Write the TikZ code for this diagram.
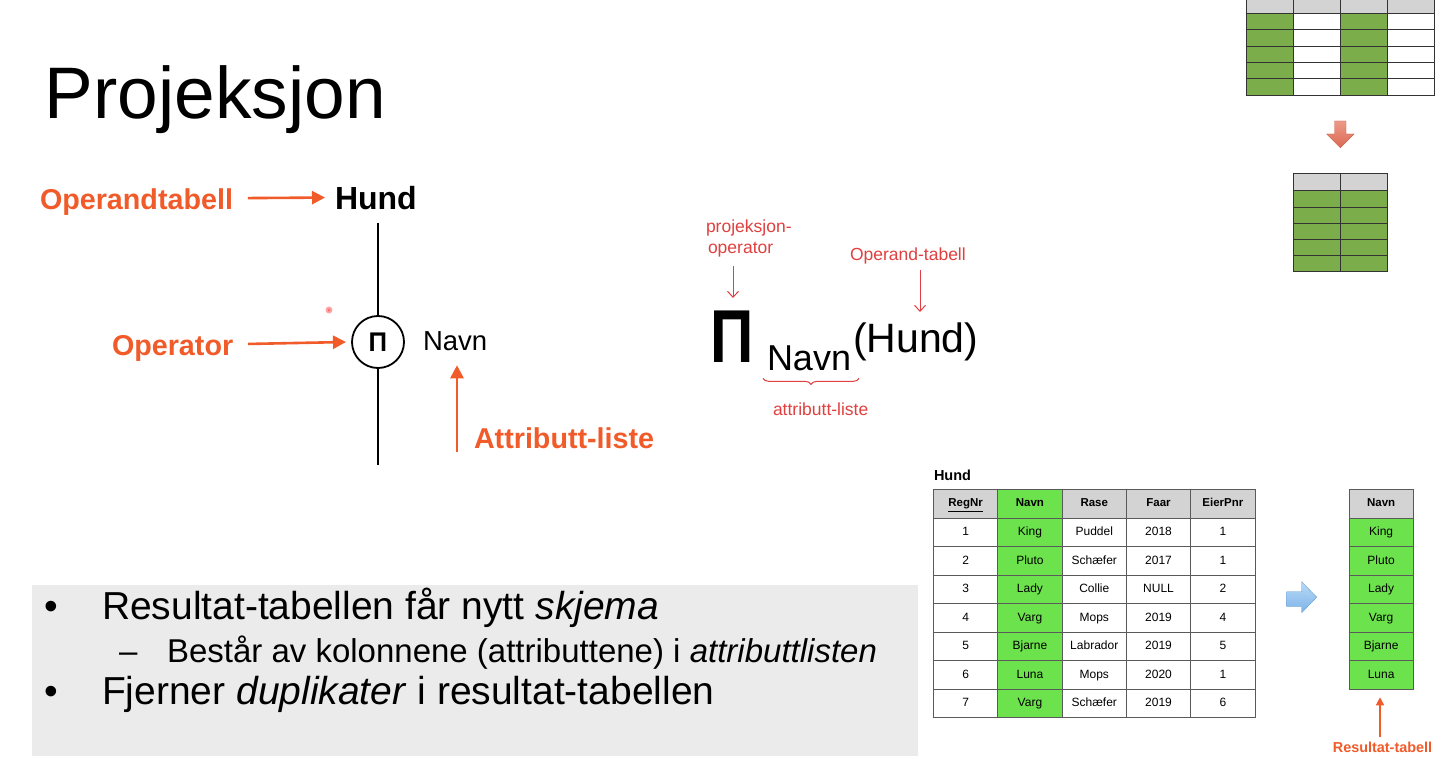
\documentclass[tikz,border=0pt]{standalone}
\usepackage{fontspec}
\setmainfont{Liberation Sans}
\usetikzlibrary{arrows.meta,decorations.pathreplacing,calc}

\definecolor{orng}{HTML}{F15A29}
\definecolor{hand}{HTML}{E0403F}
\definecolor{hdrgray}{HTML}{D3D3D3}
\definecolor{limeg}{HTML}{6CE24C}
\definecolor{oliveg}{HTML}{7BAE4A}
\definecolor{boxgray}{HTML}{EBEBEB}
\definecolor{gridline}{HTML}{5A5A5A}
\definecolor{bluetop}{HTML}{B8DAF7}
\definecolor{bluebot}{HTML}{7DB3E8}
\definecolor{blueedge}{HTML}{6A9FD6}
\definecolor{salmontop}{HTML}{EC9A88}
\definecolor{salmonbot}{HTML}{DC6A55}
\definecolor{salmonedge}{HTML}{C9624F}

\newcommand\fsz[1]{\fontsize{#1}{#1}\selectfont}

\begin{document}
\begin{tikzpicture}[x=1pt,y=-1pt,
  every node/.style={inner sep=0pt,outer sep=0pt},
  lbl/.style={text=orng,font=\fsz{28.7}\bfseries,anchor=base west},
  oarrow/.style={draw=orng,line width=2.6pt,-{Triangle[length=13pt,width=13pt]}},
  thinoarrow/.style={draw=orng,line width=1.4pt,-{Triangle[length=8pt,width=8pt]}},
  note/.style={text=hand,font=\fsz{17.5},anchor=base west},
  harrow/.style={draw=hand,line width=1pt,-{Straight Barb[length=6pt,width=11pt]}},
  cell/.style={draw=gridline,line width=0.8pt,minimum width=64.3pt,minimum height=28.5pt,
    font=\fsz{12},text height=8.8pt,text depth=2.6pt},
  hcell/.style={cell,fill=hdrgray,font=\fsz{11.5}\bfseries},
  mini/.style={draw=black!80,line width=0.7pt}
]
\useasboundingbox (0,0) rectangle (1436,757);
\fill[white] (0,0) rectangle (1436,757);

% title
\node[font=\fsz{73},anchor=base west] (title) at (45,119) {Projeksjon};

% ---------- operator tree ----------
\node[lbl] (optab) at (40,209) {Operandtabell};
\node[font=\fsz{32}\bfseries,anchor=base west] (hund) at (335,209) {Hund};
\draw[oarrow] ($(optab.east)+(15,-3.5)$) -- ($(hund.west)+(-10,0)$);

\node[circle,draw,line width=1.8pt,minimum size=52pt] (op) at (378,342)
  {\fsz{27}\bfseries\scalebox{0.95}[1]{Π}};
\coordinate (ltop) at (378,223);
\coordinate (lbot) at (378,465);
\draw[line width=1.8pt] (ltop) -- (op.north);
\draw[line width=1.8pt] (op.south) -- (lbot);

\node[lbl] (oplbl) at (112,355) {Operator};
\draw[oarrow] ($(oplbl.east)+(15,-4)$) -- ($(op.west)+(-6,0)$);

\node[font=\fsz{27.5},anchor=base west] (navn1) at (423,350) {Navn};
\node[lbl] (attr) at (474,448) {Attributt-liste};
\coordinate (attrtail) at (457,452);
\draw[oarrow] (attrtail) -- ($(navn1.south -| attrtail)+(0,15)$);

% pointer dot
\fill[red!35] (329,310) circle (3.5);
\fill[red!55] (329,310) circle (1.6);

% ---------- formula ----------
\node[font=\fsz{75}\bfseries,anchor=base west] (bigpi) at (710,362) {\scalebox{0.8}[1]{Π}};
\node[font=\fsz{36},anchor=base west] (sub) at (767,370) {Navn};
\node[font=\fsz{41},anchor=base west] (arg) at (853,352) {(Hund)};

\node[note] (pj1) at (706,233) {projeksjon-};
\node[note] (pj2) at (708,253) {operator};
\coordinate (pjarrow) at (733,266);
\draw[harrow] (pjarrow) -- (733,298);

\node[note] (ot) at (850,260) {Operand-tabell};
\coordinate (otarrow) at (920,270);
\draw[harrow] (otarrow) -- (920,312);

\draw[hand,line width=1pt,decorate,decoration={brace,amplitude=6pt,mirror}]
  ($(sub.south west)+(-4,8)$) -- ($(sub.south east)+(8,8)$);
\node[note] (al) at (773,415) {attributt-liste};

% ---------- small schematic tables ----------
\foreach \c in {0,...,3}{
  \filldraw[mini,fill=hdrgray] (1246.7+\c*46.9,-2) rectangle ++(46.9,15.3);
  \foreach \r in {0,...,4}{
    \pgfmathtruncatemacro{\odd}{mod(\c,2)}
    \ifnum\odd=0
      \filldraw[mini,fill=oliveg] (1246.7+\c*46.9,13.3+\r*16.35) rectangle ++(46.9,16.35);
    \else
      \filldraw[mini,fill=white] (1246.7+\c*46.9,13.3+\r*16.35) rectangle ++(46.9,16.35);
    \fi
  }
}
\shade[top color=salmontop,bottom color=salmonbot,draw=salmonedge]
  (1334.5,121) -- (1346,121) -- (1346,134) -- (1354,134) -- (1340.3,147.7)
  -- (1326.7,134) -- (1334.5,134) -- cycle;
\foreach \c in {0,1}{
  \filldraw[mini,fill=hdrgray] (1293.3+\c*47,173.7) rectangle ++(47,17);
  \foreach \r in {0,...,4}{
    \filldraw[mini,fill=oliveg] (1293.3+\c*47,190.7+\r*16.2) rectangle ++(47,16.2);
  }
}

% ---------- Hund table ----------
\node[font=\fsz{14.5}\bfseries,anchor=base west] (hundlbl) at (934,480.5) {Hund};
\node[hcell] (h-0-1) at (965.65,503.8) {\underline{RegNr}};
\node[hcell,fill=limeg] (h-0-2) at (1029.95,503.8) {Navn};
\node[hcell] (h-0-3) at (1094.25,503.8) {Rase};
\node[hcell] (h-0-4) at (1158.55,503.8) {Faar};
\node[hcell] (h-0-5) at (1222.85,503.8) {EierPnr};
\foreach \a/\b/\cc/\d/\e [count=\i] in {1/King/Puddel/2018/1,2/Pluto/Schæfer/2017/1,
    3/Lady/Collie/NULL/2,4/Varg/Mops/2019/4,5/Bjarne/Labrador/2019/5,
    6/Luna/Mops/2020/1,7/Varg/Schæfer/2019/6}{
  \pgfmathsetmacro{\yy}{518.3+(\i-0.5)*28.5}
  \node[cell] (h-\i-1) at (965.65,\yy) {\a};
  \node[cell,fill=limeg] (h-\i-2) at (1029.95,\yy) {\b};
  \node[cell] (h-\i-3) at (1094.25,\yy) {\cc};
  \node[cell] (h-\i-4) at (1158.55,\yy) {\d};
  \node[cell] (h-\i-5) at (1222.85,\yy) {\e};
}

% arrow to the result
\shade[top color=bluetop,bottom color=bluebot,draw=blueedge]
  (1286.7,591.7) -- (1301.7,591.7) -- (1301.7,581.7) -- (1316.7,597.2)
  -- (1301.7,612.7) -- (1301.7,606.7) -- (1286.7,606.7) -- cycle;

% ---------- result table ----------
\node[hcell] (r-0) at (1381.15,503.8) {Navn};
\foreach \b [count=\i] in {King,Pluto,Lady,Varg,Bjarne,Luna}{
  \pgfmathsetmacro{\yy}{518.3+(\i-0.5)*28.5}
  \node[cell,fill=limeg] (r-\i) at (1381.15,\yy) {\b};
}
\node[text=orng,font=\fsz{14.4}\bfseries,anchor=base] (reslbl) at (1382.5,752) {Resultat-tabell};
\coordinate (restail) at (1380,737);
\draw[thinoarrow] (restail) -- ($(r-6.south -| restail)+(0,8)$);

% ---------- bullet box ----------
\fill[boxgray] (32,585) rectangle (918,756);
\node[font=\fsz{39},anchor=base west] (b1d) at (45,619) {•};
\node[font=\fsz{39},anchor=base west] (b1) at (102,619) {Resultat-tabellen får nytt \textit{skjema}};
\node[font=\fsz{33},anchor=base west] (b2d) at (119,662) {–};
\node[font=\fsz{33},anchor=base west] (b2) at (167,662) {Består av kolonnene (attributtene) i \textit{attributtlisten}};
\node[font=\fsz{39},anchor=base west] (b3d) at (45,704) {•};
\node[font=\fsz{39},anchor=base west] (b3) at (102,704) {Fjerner \textit{duplikater} i resultat-tabellen};
\end{tikzpicture}
\end{document}
